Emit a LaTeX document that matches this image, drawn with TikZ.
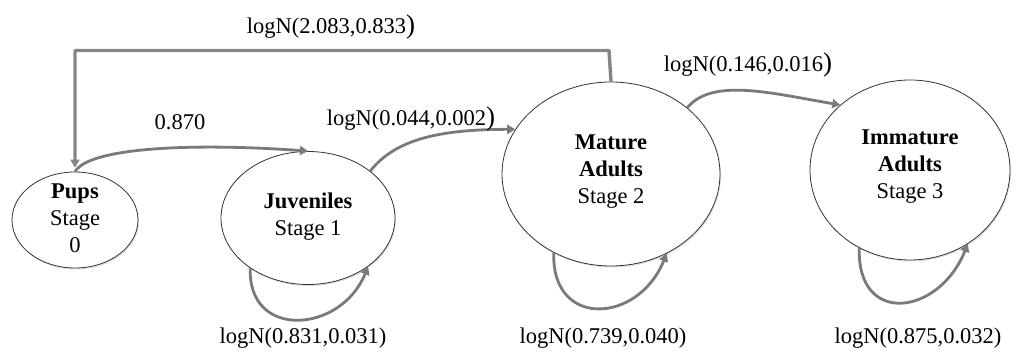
\documentclass[tikz,border=0pt]{standalone}
\usepackage{fontspec}
\setmainfont{Liberation Serif}
\usetikzlibrary{arrows.meta,shapes.geometric,shadows}
\newcommand\myclosepar{{\fontsize{27}{27}\selectfont)}}
\begin{document}
\begin{tikzpicture}[x=1pt,y=1pt,
  stage/.style={ellipse, draw=black!80, line width=0.8pt, fill=white, inner sep=0pt,
    drop shadow={opacity=0.25,shadow xshift=1pt,shadow yshift=-1.5pt}},
  stagetext/.style={align=center, inner sep=0pt, font=\fontsize{22.5}{27}\selectfont},
  flowline/.style={draw=black!52, line width=2.8pt, line join=round},
  flow/.style={flowline, -{Triangle[length=8pt,width=9pt]}},
  lab/.style={font=\fontsize{22.5}{27}\selectfont, inner sep=0pt}]
\useasboundingbox (0,0) rectangle (1019,-352);
% nodes
\node[stage, minimum width=126, minimum height=96] (pups) at (75,-220) {};
\node[stagetext] (pupst) at (75,-218) {\textbf{Pups}\\Stage\\0};
\node[stage, minimum width=174, minimum height=133] (juv) at (308,-218) {};
\node[stagetext] (juvt) at (308,-217) {\textbf{Juveniles}\\Stage 1};
\node[stage, minimum width=218, minimum height=184] (mat) at (611,-174) {};
\node[stagetext] (matt) at (611,-172) {\textbf{Mature}\\\textbf{Adults}\\Stage 2};
\node[stage, minimum width=200, minimum height=180] (imm) at (910,-170) {};
\node[stagetext] (immt) at (910,-167) {\textbf{Immature}\\\textbf{Adults}\\Stage 3};
% connectors
\coordinate (tl) at (75,-50.5);
\coordinate (tr) at (609,-50.5);
\draw[flow, line width=3.4pt, draw=black!48, shorten >=4pt] (mat.north) -- (tr) -- (tl) -- (pups.north);
\draw[flow] (pups.north) .. controls +(15,25) and +(-110,8) .. (juv.north);
\draw[flow] (juv.37) .. controls +(25,32) and +(-75,0) .. (mat.155);
\draw[flow] (mat.41) .. controls +(25,30) and +(-70,12) .. (imm.137);
\draw[flow] (juv.-139) .. controls +(-92:72) and +(-112:72) .. (juv.-39);
\draw[flow] (mat.-126) .. controls +(-92:76) and +(-112:76) .. (mat.-55);
\draw[flow] (imm.-123) .. controls +(-92:78) and +(-112:78) .. (imm.-52);
% labels
\node[lab] (l1) at (331,-27) {logN(2.083,0.833\myclosepar};
\node[lab] (l2) at (180,-122) {0.870};
\node[lab] (l3) at (411,-119) {logN(0.044,0.002\myclosepar};
\node[lab] (l4) at (748,-65) {logN(0.146,0.016\myclosepar};
\node[lab] (l5) at (303,-338) {logN(0.831,0.031)};
\node[lab] (l6) at (603,-338) {logN(0.739,0.040)};
\node[lab] (l7) at (918,-338) {logN(0.875,0.032)};
\end{tikzpicture}
\end{document}
